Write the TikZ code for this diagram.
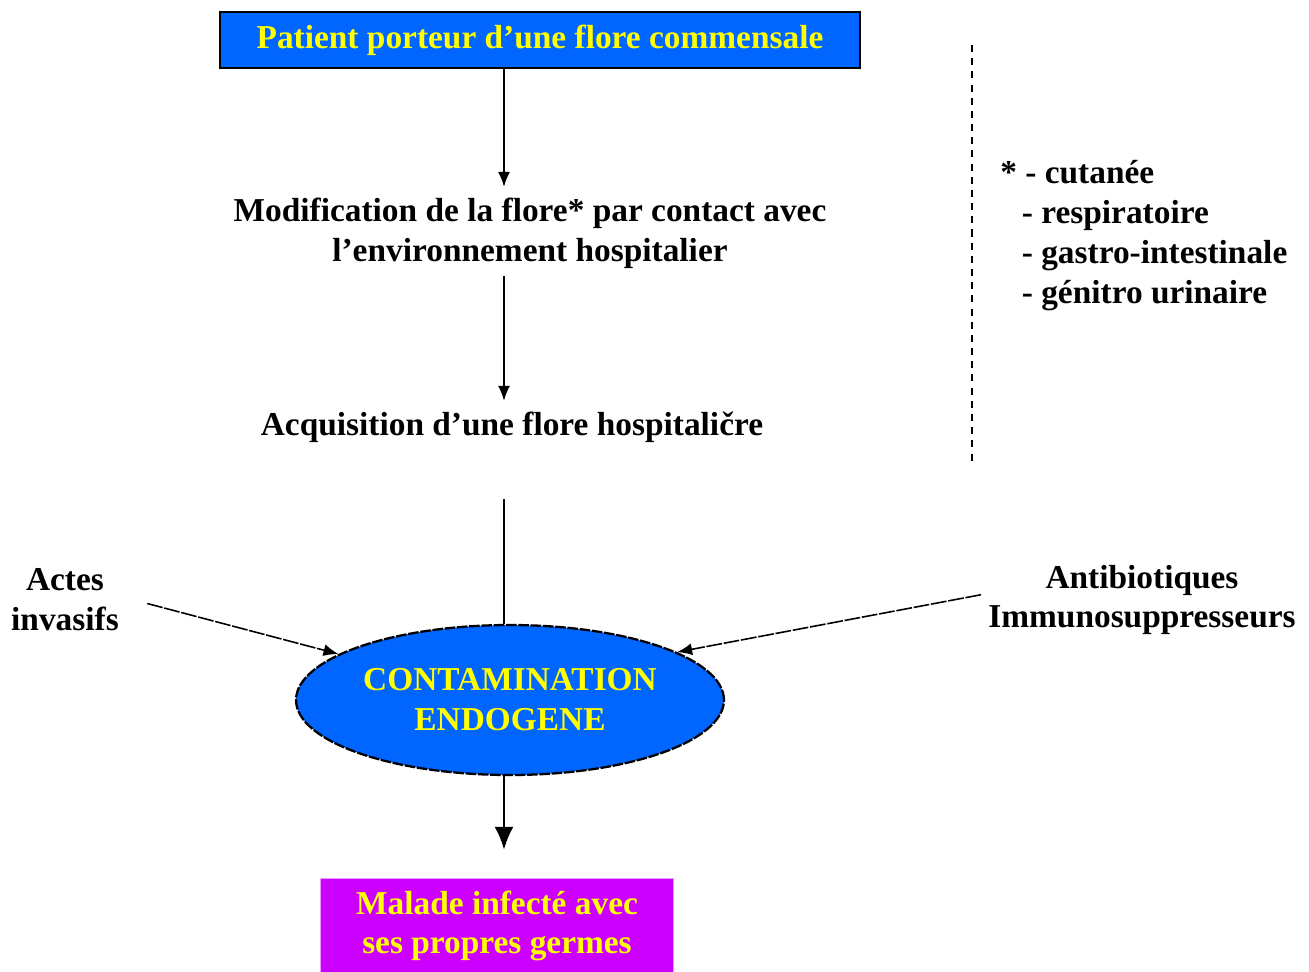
\documentclass[tikz,border=0pt]{standalone}
\usepackage{fontspec}
\setmainfont{Liberation Serif}
\usepackage{tikz}
\usetikzlibrary{arrows.meta,positioning,shapes.geometric}
\definecolor{floreBlue}{RGB}{0,102,255}
\definecolor{floreMagenta}{RGB}{204,0,255}
\definecolor{floreYellow}{RGB}{255,255,0}
\tikzset{
  >=Latex,
  font=\bfseries\fontsize{19}{22.7}\selectfont,
  % blue and magenta boxes carry yellow text
  colorbox/.style={
    fill=#1,
    draw=black,
    line width=0.9pt,
    align=center,
    text=floreYellow,
    inner sep=2pt
  },
  colorbox/.default=floreBlue,
  plain/.style={
    align=center,
    text=black,
    inner sep=2pt
  },
  listtext/.style={
    align=left,
    text=black,
    inner sep=0pt,
    anchor=north west
  },
  arrow/.style={
    -{Latex[length=3mm,width=2.4mm]},
    line width=0.9pt,
    draw=black
  },
  bigarrow/.style={
    -{Latex[length=4.6mm,width=3.8mm]},
    line width=1.6pt,
    draw=black
  }
}

\begin{document}
\begin{tikzpicture}[x=0.02cm,y=-0.02cm]
\useasboundingbox (0,0) rectangle (1309,971);

\coordinate (axis) at (504,0);

\node[colorbox=floreBlue, minimum width=12.8cm, minimum height=1.12cm] (patient) at (540,40)
{Patient porteur d'une flore commensale};

\node[plain] (modif) at (530,233)
{Modification de la flore* par contact avec\\l'environnement hospitalier};

\node[plain] (acquis) at (512,427) {Acquisition d'une flore hospitaličre};

\node[colorbox=floreBlue, ellipse, line width=1.3pt, dashed, dash pattern=on 6pt off 1pt,
  minimum width=8.56cm, minimum height=3cm] (contam) at (510,700)
{CONTAMINATION\\ENDOGENE};

\node[colorbox=floreMagenta, draw=floreMagenta!40!white, line width=0.5pt,
  minimum width=7.06cm, minimum height=1.9cm, anchor=north] (malade) at (497,878)
{Malade infecté avec\\ses propres germes};

\node[plain] (actes) at (65,600) {Actes\\invasifs};
\node[plain] (antib) at (1142,600) {Antibiotiques\\Immunosuppresseurs};

% annotation for the asterisk
\node[listtext] (liste) at (1000,160)
{*\ - cutanée\\\hspace*{0.43cm}- respiratoire\\\hspace*{0.43cm}- gastro-intestinale\\\hspace*{0.43cm}- génitro urinaire};
\coordinate (sepTop) at (972,45);
\coordinate (sepBot) at (972,465);
\draw[line width=1.6pt, dash pattern=on 4pt off 3.5pt] (sepTop) -- (sepBot);

\draw[arrow] (patient.south -| axis) -- ([yshift=4pt]modif.north -| axis);
\draw[arrow] ([yshift=-2pt]modif.south -| axis) -- ([yshift=4pt]acquis.north -| axis);
\draw[line width=1.2pt] ([yshift=-30pt]acquis.south -| axis) -- (contam.north -| axis);
\draw[bigarrow] (contam.south -| axis) -- ([yshift=16pt]malade.north -| axis);

\draw[arrow, dash pattern=on 9pt off 1pt] ([xshift=14pt,yshift=-2pt]actes.east) -- (contam.165);
\draw[arrow, dash pattern=on 9pt off 1pt] ([xshift=-2pt,yshift=3pt]antib.west) -- (contam.16);

\end{tikzpicture}
\end{document}
